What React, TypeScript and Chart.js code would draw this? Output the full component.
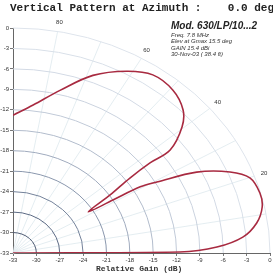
import React, { useEffect, useRef } from 'react';
import { Chart, registerables } from 'chart.js';
Chart.register(...registerables);

// Elevation pattern (degrees above horizon) and relative gain (dB)
const elevDeg = [0, 0.4, 1.9, 4.5, 8.0, 11.9, 15.5, 19.9, 23.1, 26.7, 29.4, 30.7, 31.2, 32.0, 34.3, 36.2, 36.9, 36.8, 40.4, 43.9, 49.3, 55.5, 61.3, 68.5, 75.8, 83.2, 90];
const gainDb = [-33, -11.6, -6.8, -3.4, -1.4, -0.3, -0.1, -0.65, -2.7, -6.6, -11.8, -14.0, -18.0, -21.6, -17.9, -14.4, -11.0, -7.8, -4.5, -2.7, -1.5, -1.3, -2.6, -5.0, -8.4, -11.15, -12.8];

const dbTicks = [-33, -30, -27, -24, -21, -18, -15, -12, -9, -6, -3, 0];
const angleLabels = [80, 60, 40, 20];
const spokeAngles = [10, 20, 30, 40, 50, 60, 70, 80];

const titleText = 'Vertical Pattern at Azimuth :    0.0 deg';
const modelText = 'Mod. 630/LP/10...2';
const infoLines = ['Freq. 7.8 MHz', 'Elev at Gmax 15.5 deg', 'GAIN 15.4 dBi', '30-Nov-03 ( 38.4 ft)'];
const axisTitle = 'Relative Gain (dB)';

const DB_MIN = -33;

const ringColors = ['#4d5a72', '#5c6a84', '#74829a', '#8a97ad', '#a0abbe', '#b2bccc', '#c1cad8', '#cbd3df', '#d3dae5', '#d9e0e9', '#dee4ec'];

const polarPlugin = {
  id: 'polarGrid',
  beforeDatasetsDraw(chart: any) {
    const { ctx } = chart;
    const xs = chart.scales.x;
    const ys = chart.scales.y;
    const cx = xs.getPixelForValue(0);
    const cy = ys.getPixelForValue(0);
    const R = -DB_MIN;
    ctx.save();
    ctx.strokeStyle = '#dde9ee';
    ctx.lineWidth = 0.8;
    spokeAngles.forEach((a) => {
      const t = (a * Math.PI) / 180;
      ctx.beginPath();
      ctx.moveTo(cx, cy);
      ctx.lineTo(xs.getPixelForValue(R * Math.cos(t)), ys.getPixelForValue(R * Math.sin(t)));
      ctx.stroke();
    });
    dbTicks.slice(1).forEach((d, i) => {
      const r = d - DB_MIN;
      const rx = xs.getPixelForValue(r) - cx;
      const ry = cy - ys.getPixelForValue(r);
      ctx.strokeStyle = ringColors[i] || '#dee4ec';
      ctx.lineWidth = 1;
      ctx.beginPath();
      ctx.ellipse(cx, cy, rx, ry, 0, -Math.PI / 2, 0);
      ctx.stroke();
    });
    ctx.restore();
  },
  afterDraw(chart: any) {
    const { ctx } = chart;
    const xs = chart.scales.x;
    const ys = chart.scales.y;
    ctx.save();
    ctx.fillStyle = '#222';
    ctx.textBaseline = 'middle';
    ctx.textAlign = 'left';
    ctx.font = 'bold 11px "Liberation Mono", monospace';
    ctx.fillText(titleText, 10, 8);
    ctx.font = 'bold italic 10px "Liberation Sans", sans-serif';
    ctx.fillText(modelText, 171, 26);
    ctx.font = 'italic 6px "Liberation Sans", sans-serif';
    ctx.fillStyle = '#333';
    infoLines.forEach((s, i) => ctx.fillText(s, 171, 35 + i * 6.6));
    ctx.font = 'bold 8px "Liberation Mono", monospace';
    ctx.fillStyle = '#333';
    ctx.fillText(axisTitle, 96, 269);
    ctx.font = '6px "Liberation Sans", sans-serif';
    ctx.textAlign = 'center';
    ctx.fillStyle = '#333';
    angleLabels.forEach((a) => {
      const t = (a * Math.PI) / 180;
      const r = 34.3;
      ctx.fillText(String(a), xs.getPixelForValue(r * Math.cos(t)), ys.getPixelForValue(r * Math.sin(t)));
    });
    ctx.restore();
  },
};

function buildTicks(scale: any) {
  scale.ticks = dbTicks.map((d) => ({ value: d - DB_MIN }));
}

function tickLabel(value: any) {
  const d = Math.round(Number(value) + DB_MIN);
  const found = dbTicks.find((t) => t === d);
  return found === undefined ? '' : String(found);
}

export default function App() {
  const ref = useRef<HTMLCanvasElement | null>(null);
  useEffect(() => {
    if (!ref.current) return;
    const pts = elevDeg.map((a, i) => {
      const r = gainDb[i] - DB_MIN;
      const t = (a * Math.PI) / 180;
      return { x: r * Math.cos(t), y: r * Math.sin(t) };
    });
    const axisCommon = {
      type: 'linear' as const,
      min: 0,
      max: -DB_MIN,
      afterBuildTicks: buildTicks,
      grid: { display: true, drawOnChartArea: false, drawTicks: true, tickLength: 3, color: '#777' },
      border: { display: true, color: '#666', width: 1 },
      ticks: {
        autoSkip: false,
        maxRotation: 0,
        padding: 1,
        color: '#333',
        font: { size: 6, family: '"Liberation Sans", sans-serif' },
        callback: tickLabel,
      },
    };
    const chart = new Chart(ref.current, {
      type: 'scatter',
      data: {
        datasets: [
          {
            data: pts,
            showLine: true,
            borderColor: '#a82a40',
            borderWidth: 1.6,
            pointRadius: 0,
            tension: 0.35,
            fill: false,
          },
        ],
      },
      options: {
        responsive: false,
        animation: false,
        layout: { padding: { top: 28, right: 3, left: 0, bottom: 0 } },
        plugins: { legend: { display: false }, tooltip: { enabled: false }, title: { display: false } },
        scales: {
          x: { ...axisCommon, afterFit: (s: any) => { s.height = 22; } },
          y: { ...axisCommon, afterFit: (s: any) => { s.width = 13; } },
        },
      },
      plugins: [polarPlugin],
    });
    return () => chart.destroy();
  }, []);
  return (
    <div style={{ position: 'fixed', left: 0, top: 0, width: 273, height: 275, background: '#fff' }}>
      <canvas ref={ref} width={273} height={275} style={{ width: 273, height: 275 }} />
    </div>
  );
}
